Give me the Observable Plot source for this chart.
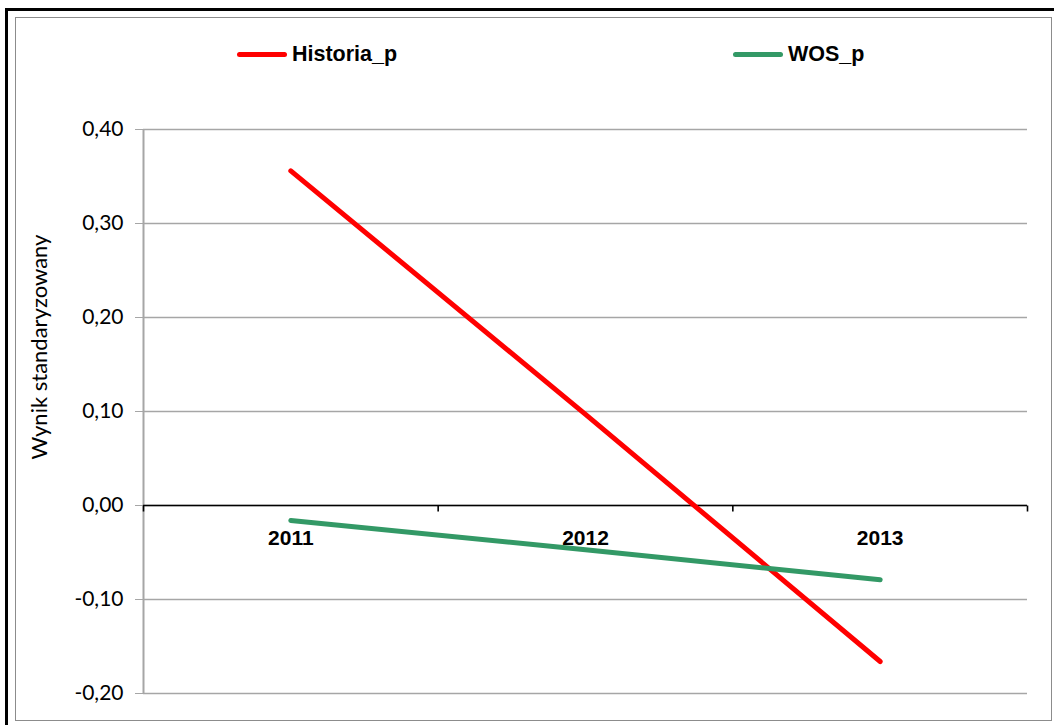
<!DOCTYPE html>
<html><head><meta charset="utf-8">
<script src="https://cdn.jsdelivr.net/npm/d3@7"></script>
<script src="https://cdn.jsdelivr.net/npm/@observablehq/plot@0.6"></script>
<style>
html,body{margin:0;padding:0;background:#fff;width:1054px;height:725px;overflow:hidden;}
#wrap{position:relative;width:1054px;height:725px;}
#outer{position:absolute;left:5px;top:8px;width:1070px;height:740px;border:3px solid #000;box-sizing:border-box;}
#inner{position:absolute;left:15px;top:17px;width:1037px;height:704px;border:1.5px solid #8c8c8c;box-sizing:border-box;}
#legend{position:absolute;left:0;top:0;width:1054px;height:80px;}
.item{position:absolute;top:40px;height:28px;display:flex;align-items:center;font:bold 21.5px "Liberation Sans",Arial,sans-serif;color:#000;}
.swatch{width:50px;height:5px;border-radius:3px;margin-right:5px;}
#chart{position:absolute;left:0;top:80px;}
#ytitle{position:absolute;left:38px;top:347px;transform:translate(-50%,-50%) rotate(-90deg);font:22px Lato,"Open Sans",sans-serif;white-space:nowrap;color:#000;}
</style>
</head>
<body>
<div id="wrap">
  <div id="outer"></div>
  <div id="inner"></div>
  <div id="legend"></div>
  <div id="chart"></div>
  <div id="ytitle"></div>
</div>
<script>
const years = ["2011", "2012", "2013"];
const historiaValues = [0.356, 0.097, -0.166];
const wosValues = [-0.016, -0.047, -0.079];
const seriesNames = ["Historia_p", "WOS_p"];
const seriesColors = ["#ff0000", "#339966"];
const yTicks = [-0.2, -0.1, 0, 0.1, 0.2, 0.3, 0.4];
const yTitle = "Wynik standaryzowany";

const fmt = d => (d < 0 ? "-" : "") + Math.abs(d).toFixed(2).replace(".", ",");

const rows = [];
years.forEach((yr, i) => {
  rows.push({series: seriesNames[0], x: i + 0.5, year: yr, value: historiaValues[i]});
  rows.push({series: seriesNames[1], x: i + 0.5, year: yr, value: wosValues[i]});
});
const labels = years.map((yr, i) => ({x: i + 0.5, year: yr}));
const boundaries = d3.range(years.length + 1);

const tickSymbol = {draw(ctx) { ctx.moveTo(0, 0); ctx.lineTo(0, 6); }};

const chart = Plot.plot({
  width: 1054,
  height: 645,
  marginLeft: 143,
  marginRight: 27,
  marginTop: 49,
  marginBottom: 32,
  style: {fontFamily: "Lato, 'Open Sans', sans-serif", fontSize: "21px", color: "#000", background: "transparent"},
  x: {domain: [0, years.length], axis: null},
  y: {domain: [-0.2, 0.4], axis: null},
  color: {domain: seriesNames, range: seriesColors},
  marks: [
    Plot.gridY(yTicks, {stroke: "#a6a6a6", strokeOpacity: 1, strokeWidth: 1.3}),
    Plot.axisY(yTicks, {tickFormat: fmt, tickSize: 8, tickPadding: 12, stroke: "#a6a6a6", fontSize: 21, fill: "#000", label: null}),
    Plot.ruleX([0], {stroke: "#a6a6a6", strokeWidth: 2}),
    Plot.ruleY([0], {stroke: "#000", strokeWidth: 1.6}),
    Plot.dot(boundaries, {x: d => d, y: () => 0, symbol: tickSymbol, stroke: "#000", strokeWidth: 1.6, r: 3}),
    Plot.text(labels, {x: "x", y: () => 0, text: "year", dy: 33, fontWeight: "bold", fontSize: 21, fontFamily: "'Liberation Sans', Arial, sans-serif", fill: "#000"}),
    Plot.line(rows, {x: "x", y: "value", z: "series", stroke: "series", strokeWidth: 5, strokeLinecap: "round"})
  ]
});
document.getElementById("chart").appendChild(chart);

const legend = document.getElementById("legend");
const legendLeft = [237, 733];
seriesNames.forEach((name, i) => {
  const item = document.createElement("div");
  item.className = "item";
  item.style.left = legendLeft[i] + "px";
  const sw = document.createElement("span");
  sw.className = "swatch";
  sw.style.background = seriesColors[i];
  const tx = document.createElement("span");
  tx.textContent = name;
  item.appendChild(sw);
  item.appendChild(tx);
  legend.appendChild(item);
});
document.getElementById("ytitle").textContent = yTitle;
</script>
</body></html>
